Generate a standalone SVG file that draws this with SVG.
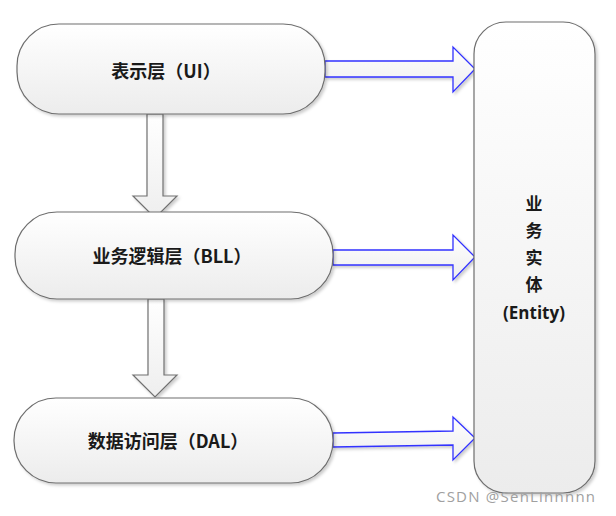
<svg xmlns="http://www.w3.org/2000/svg" width="616" height="516" viewBox="0 0 616 516">
<defs>
<linearGradient id="g" x1="0" y1="0" x2="0" y2="1">
<stop offset="0" stop-color="#ffffff"/>
<stop offset="1" stop-color="#ececec"/>
</linearGradient>
<linearGradient id="ga" x1="0" y1="0" x2="0" y2="1">
<stop offset="0" stop-color="#ffffff"/>
<stop offset="1" stop-color="#eeeeee"/>
</linearGradient>
<filter id="sh" x="-10%" y="-10%" width="130%" height="130%">
<feDropShadow dx="2" dy="2" stdDeviation="1.5" flood-color="#000" flood-opacity="0.2"/>
</filter>
</defs>
<style>
.node{fill:url(#g);stroke:#6e6e6e;stroke-width:1.2;filter:url(#sh)}
.lbl{font-family:"Noto Sans CJK SC","Noto Sans",sans-serif;font-weight:bold;font-size:18px;fill:#1a1a1a;text-anchor:middle}
.ent{font-family:"Open Sans","Noto Sans CJK SC",sans-serif;font-weight:bold;font-size:17px;fill:#1a1a1a;text-anchor:middle}
.ra{fill:url(#ga);stroke:#3333ff;stroke-width:1.3;filter:url(#sh)}
.da{fill:url(#ga);stroke:#707070;stroke-width:1.2;filter:url(#sh)}
.wm{font-family:"Open Sans","Liberation Sans",sans-serif;font-size:15px;fill:#a0a0a0}
</style>
<rect width="616" height="516" fill="#ffffff"/>
<g id="connectors">
<polygon class="da" points="147,114 163,114 163,196 177,196 155,218 133,196 147,196"/>
<polygon class="da" points="148,299 164,299 164,375 177,375 155,397 133,375 148,375"/>
<polygon class="ra" points="325,61 453,61 453,47 475,69 453,92 453,77 325,77"/>
<polygon class="ra" points="333,250 453,250 453,235 475,257 453,280 453,265 333,265"/>
<polygon class="ra" points="333,433 453,431 453,417 475,438 453,460 453,445 333,447"/>
</g>
<g id="entity">
<rect class="node" x="474" y="22" width="121" height="471" rx="32" ry="32"/>
<text class="ent" x="534" y="210">业</text>
<text class="ent" x="534" y="237">务</text>
<text class="ent" x="534" y="264">实</text>
<text class="ent" x="534" y="291">体</text>
<text class="ent" x="534" y="319">(Entity)</text>
</g>
<g id="ui">
<rect class="node" x="17" y="24" width="308" height="90" rx="42" ry="42"/>
<text class="lbl" x="166" y="78">表示层（UI）</text>
</g>
<g id="bll">
<rect class="node" x="15" y="212" width="318" height="87" rx="42" ry="42"/>
<text class="lbl" x="172" y="263">业务逻辑层（BLL）</text>
</g>
<g id="dal">
<rect class="node" x="14" y="398" width="319" height="85" rx="42" ry="42"/>
<text class="lbl" x="168" y="448">数据访问层（DAL）</text>
</g>
<text class="wm" x="436" y="502" textLength="159" lengthAdjust="spacing">CSDN @SenLinnnnn</text>
</svg>
